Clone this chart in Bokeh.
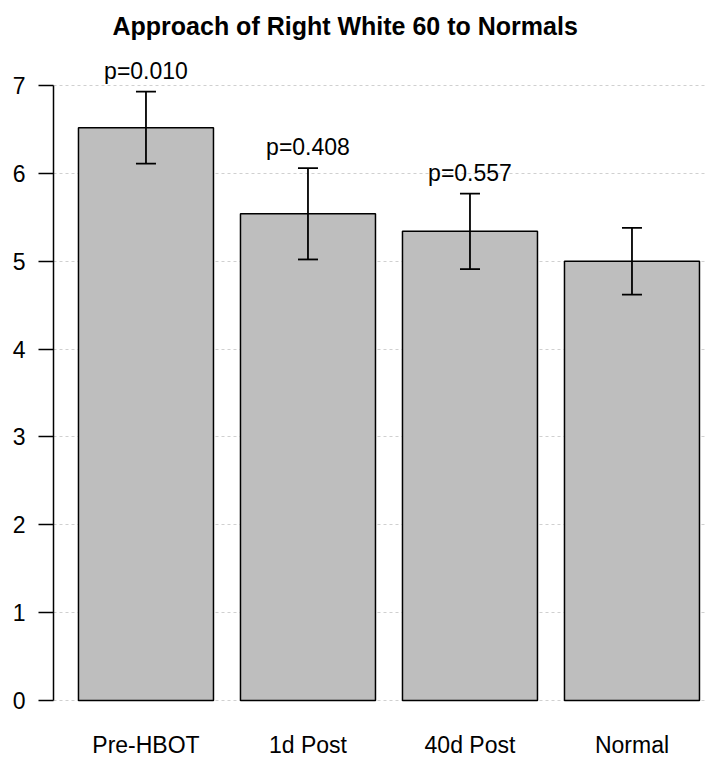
from bokeh.plotting import figure
from bokeh.models import FixedTicker, Range1d, ColumnDataSource, Whisker, TeeHead
from bokeh.embed import file_html
from bokeh.resources import INLINE
from bokeh.core.properties import value

categories = ["Pre-HBOT", "1d Post", "40d Post", "Normal"]
means = [6.52, 5.54, 5.34, 5.00]
errors = [0.41, 0.52, 0.43, 0.38]
pvals = ["p=0.010", "p=0.408", "p=0.557", ""]
yticks = [0, 1, 2, 3, 4, 5, 6, 7]

# R barplot layout: width 1, space 0.2
centers = [0.7 + 1.2 * i for i in range(len(categories))]
upper = [m + e for m, e in zip(means, errors)]
lower = [m - e for m, e in zip(means, errors)]

src = ColumnDataSource(dict(x=centers, top=means, upper=upper, lower=lower, lab=pvals))

FONT = "Liberation Sans"

p = figure(width=710, height=762, output_backend="svg", toolbar_location=None,
           x_range=Range1d(0.015, 4.852), y_range=Range1d(-0.102, 7.455),
           min_border_left=53, min_border_right=4, min_border_top=45, min_border_bottom=53)

p.title.text = "Approach of Right White 60 to Normals"
p.title.text_font = FONT
p.title.text_font_size = "25px"
p.title.text_font_style = "bold"
p.title.text_color = "black"
p.title.align = "left"
p.title.offset = 59
p.title.standoff = 12

p.outline_line_color = None
p.background_fill_color = "white"

p.xgrid.grid_line_color = None
p.ygrid.ticker = FixedTicker(ticks=yticks)
p.ygrid.grid_line_color = "#d0d0d0"
p.ygrid.grid_line_dash = "3 3"
p.ygrid.grid_line_width = 1

p.vbar(x="x", top="top", bottom=0, width=1.0, source=src,
       fill_color="#bebebe", line_color="black", line_width=1.5)

w = Whisker(base="x", upper="upper", lower="lower", source=src,
            line_color="black", line_width=1.8, level="overlay",
            upper_head=TeeHead(size=20, line_color="black", line_width=1.8),
            lower_head=TeeHead(size=20, line_color="black", line_width=1.8))
p.add_layout(w)

p.text(x="x", y="upper", text="lab", source=src, text_align="center",
       text_baseline="bottom", y_offset=-8, text_font=value(FONT),
       text_font_size="23px", text_color="black")

# y axis
p.yaxis.ticker = FixedTicker(ticks=yticks)
p.yaxis.bounds = (0, 7)
p.yaxis.axis_line_width = 1.5
p.yaxis.major_tick_line_width = 1.5
p.yaxis.major_tick_out = 15
p.yaxis.major_tick_in = 0
p.yaxis.minor_tick_line_color = None
p.yaxis.major_label_standoff = 13
p.yaxis.major_label_text_font = FONT
p.yaxis.major_label_text_font_size = "23px"
p.yaxis.major_label_text_color = "black"
p.yaxis.major_label_orientation = "horizontal"

# x axis
p.xaxis.ticker = FixedTicker(ticks=centers)
p.xaxis.major_label_overrides = {c: lab for c, lab in zip(centers, categories)}
p.xaxis.axis_line_color = None
p.xaxis.major_tick_line_color = None
p.xaxis.minor_tick_line_color = None
p.xaxis.major_label_standoff = 16
p.xaxis.major_label_text_font = FONT
p.xaxis.major_label_text_font_size = "23px"
p.xaxis.major_label_text_color = "black"

open("out.html", "w").write(file_html(p, INLINE))
